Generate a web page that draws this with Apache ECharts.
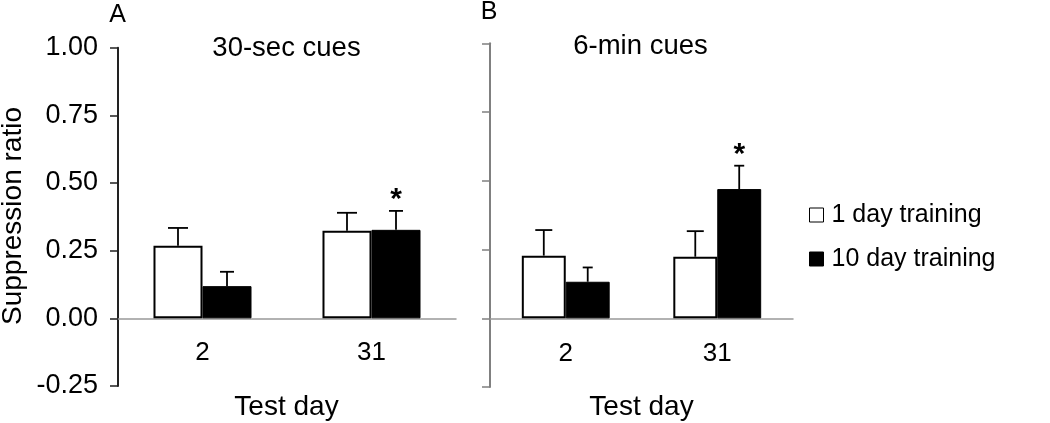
<!DOCTYPE html>
<html>
<head>
<meta charset="utf-8">
<script src="https://cdn.jsdelivr.net/npm/echarts@6/dist/echarts.min.js"></script>
<style>
  html, body { margin: 0; padding: 0; background: #fff; }
  #chart { width: 1050px; height: 423px; }
</style>
</head>
<body>
<div id="chart"></div>
<script>
// ---- Data ----
const categories = ['2', '31'];
const seriesNames = ['1 day training', '10 day training'];

// Panel A: 30-sec cues
const A_oneDay = [0.268, 0.324];
const A_oneDayErr = [0.066, 0.066];
const A_tenDay = [0.119, 0.327];
const A_tenDayErr = [0.053, 0.070];
const A_tenDaySig = [false, true];

// Panel B: 6-min cues
const B_oneDay = [0.228, 0.224];
const B_oneDayErr = [0.093, 0.093];
const B_tenDay = [0.133, 0.470];
const B_tenDayErr = [0.052, 0.085];
const B_tenDaySig = [false, true];

const FONT = 'Liberation Sans, Arial, Helvetica, sans-serif';
const BAR_FRAC = 0.29;

function errData(vals, errs, sig) {
  return vals.map((v, i) => [i, v, errs[i], sig && sig[i] ? 1 : 0]);
}

function errRender(pos, capW) {
  return function (params, api) {
    const cat = api.value(0), v = api.value(1), e = api.value(2), s = api.value(3);
    const band = api.size([1, 0])[0];
    const bw = band * BAR_FRAC;
    const off = (pos - 0.5) * bw;
    const p0 = api.coord([cat, v]);
    const p1 = api.coord([cat, v + e]);
    const x = p0[0] + off;
    const children = [
      { type: 'line', shape: { x1: x, y1: p0[1], x2: x, y2: p1[1] }, style: { stroke: '#000', lineWidth: 1.8 } },
      { type: 'line', shape: { x1: x - capW / 2, y1: p1[1], x2: x + capW / 2, y2: p1[1] }, style: { stroke: '#000', lineWidth: 1.8 } }
    ];
    if (s) {
      children.push({
        type: 'text',
        style: { x: x, y: p1[1] - 26, text: '*', fontSize: 30, fontWeight: 'bold', fontFamily: FONT, fill: '#000', align: 'center', verticalAlign: 'top' }
      });
    }
    return { type: 'group', children: children };
  };
}

function yAxisDef(gridIndex, color, showLabels) {
  return {
    type: 'value', gridIndex: gridIndex, min: -0.25, max: 1.0, interval: 0.25,
    axisLine: { show: true, lineStyle: { color: color, width: 2 } },
    axisTick: { show: true, inside: false, length: 8, lineStyle: { color: color, width: 1.5 } },
    splitLine: { show: false },
    axisLabel: {
      show: showLabels, margin: 20, color: '#000', fontSize: 27, fontFamily: FONT,
      formatter: v => v.toFixed(2)
    }
  };
}

function xAxisDef(gridIndex) {
  return {
    type: 'category', gridIndex: gridIndex, data: categories,
    axisLine: { show: true, onZero: true, lineStyle: { color: '#999', width: 1.5 } },
    axisTick: { show: false },
    axisLabel: { margin: -46, color: '#000', fontSize: 26, fontFamily: FONT }
  };
}

function barSeries(name, idx, data, isBlack) {
  return {
    name: name, type: 'bar', xAxisIndex: idx, yAxisIndex: idx,
    data: data, barWidth: (BAR_FRAC * 100) + '%', barGap: '0%',
    itemStyle: isBlack
      ? { color: '#000', borderColor: '#000', borderWidth: 1 }
      : { color: '#fff', borderColor: '#000', borderWidth: 2 },
    emphasis: { disabled: true },
    z: 2
  };
}

function errSeries(name, idx, data, pos, capW) {
  return {
    name: name, type: 'custom', xAxisIndex: idx, yAxisIndex: idx,
    data: data, renderItem: errRender(pos, capW), z: 3, silent: true
  };
}

function label(text, x, y, size) {
  return { type: 'text', x: x, y: y, style: { text: text, fontSize: size, fontFamily: FONT, fill: '#000', align: 'center', verticalAlign: 'middle' } };
}

const chart = echarts.init(document.getElementById('chart'), null, { renderer: 'canvas' });

const option = {
  animation: false,
  backgroundColor: '#fff',
  textStyle: { fontFamily: FONT },
  grid: [
    { left: 118, top: 47.7, width: 338, height: 338.3, containLabel: false, outerBoundsMode: 'none' },
    { left: 490, top: 43.3, width: 303, height: 343.8, containLabel: false, outerBoundsMode: 'none' }
  ],
  xAxis: [xAxisDef(0), xAxisDef(1)],
  yAxis: [yAxisDef(0, '#222', true), yAxisDef(1, '#808080', false)],
  legend: {
    orient: 'vertical', left: 809, top: 200, padding: 0, itemWidth: 14, itemHeight: 14, itemGap: 14,
    icon: 'rect',
    textStyle: { fontSize: 25, fontFamily: FONT, color: '#000', lineHeight: 30, padding: [0, 0, 0, 3] },
    data: [
      { name: seriesNames[0], itemStyle: { color: '#fff', borderColor: '#000', borderWidth: 1 } },
      { name: seriesNames[1], itemStyle: { color: '#000', borderColor: '#000', borderWidth: 1 } }
    ],
    selectedMode: false
  },
  graphic: [
    label('A', 117.5, 15, 25),
    label('B', 489, 12.5, 25),
    label('30-sec cues', 286.5, 48, 27.5),
    label('6-min cues', 640.5, 46, 27.5),
    label('Test day', 286.5, 407, 28),
    label('Test day', 641.5, 407, 28),
    { type: 'text', x: 13, y: 216, rotation: Math.PI / 2, style: { text: 'Suppression ratio', fontSize: 28, fontFamily: FONT, fill: '#000', align: 'center', verticalAlign: 'middle' } }
  ],
  series: [
    barSeries(seriesNames[0], 0, A_oneDay, false),
    barSeries(seriesNames[1], 0, A_tenDay, true),
    barSeries(seriesNames[0], 1, B_oneDay, false),
    barSeries(seriesNames[1], 1, B_tenDay, true),
    errSeries(seriesNames[0], 0, errData(A_oneDay, A_oneDayErr), 0, 20),
    errSeries(seriesNames[1], 0, errData(A_tenDay, A_tenDayErr, A_tenDaySig), 1, 14),
    errSeries(seriesNames[0], 1, errData(B_oneDay, B_oneDayErr), 0, 17),
    errSeries(seriesNames[1], 1, errData(B_tenDay, B_tenDayErr, B_tenDaySig), 1, 10)
  ]
};
chart.setOption(option);
</script>
</body>
</html>
